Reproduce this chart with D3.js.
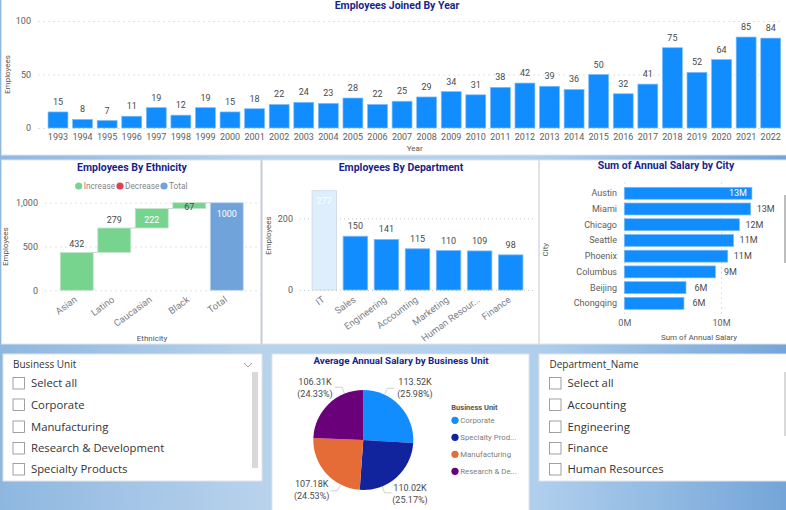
<!DOCTYPE html>
<html>
<head>
<meta charset="utf-8">
<script src="https://cdn.jsdelivr.net/npm/d3@7"></script>
<style>
    html, body { margin: 0; padding: 0; overflow: hidden; }
    svg { display: block; }
    text { font-family: Roboto, sans-serif; }
    .title { font-size: 10.5px; font-weight: 700; fill: #1a1f8c; text-anchor: middle; }
    .tick-label { font-size: 9px; fill: #605e5c; }
    .slanted { font-size: 9.5px; fill: #7b8089; }
    .data-label { font-size: 9px; fill: #4a4a4a; text-anchor: middle; }
    .axis-title { font-size: 8px; fill: #555; text-anchor: middle; }
    .slicer-title { font-family: "Open Sans", sans-serif; font-size: 10px; fill: #333; }
    .slicer-item { font-family: "Open Sans", sans-serif; font-size: 11.3px; fill: #333; }
    .domain { display: none; }
    .tick line { stroke: #e3e3e3; stroke-dasharray: 2 3; }
</style>
</head>
<body>
<script>
const years = ["1993","1994","1995","1996","1997","1998","1999","2000","2001","2002","2003","2004","2005","2006","2007","2008","2009","2010","2011","2012","2013","2014","2015","2016","2017","2018","2019","2020","2021","2022"];
const joined = [15,8,7,11,19,12,19,15,18,22,24,23,28,22,25,29,34,31,38,42,39,36,50,32,41,75,52,64,85,84];

const ethnicities = ["Asian","Latino","Caucasian","Black","Total"];
const ethnicityCounts = [432,279,222,67,1000];

const departments = ["IT","Sales","Engineering","Accounting","Marketing","Human Resour...","Finance"];
const departmentCounts = [277,150,141,115,110,109,98];

const cities = ["Austin","Miami","Chicago","Seattle","Phoenix","Columbus","Beijing","Chongqing"];
const citySalary = [13.2,13.07,11.9,11.3,10.7,9.43,6.38,6.17];
const cityLabels = ["13M","13M","12M","11M","11M","9M","6M","6M"];

const units = ["Corporate","Specialty Prod...","Manufacturing","Research & De..."];
const unitSalary = [113.52,110.02,107.18,106.31];
const unitLabels = ["113.52K","110.02K","107.18K","106.31K"];
const unitShares = ["(25.98%)","(25.17%)","(24.53%)","(24.33%)"];
const unitColors = ["#118dff","#12239e","#e66c37","#6b007b"];

const businessItems = ["Select all","Corporate","Manufacturing","Research & Development","Specialty Products"];
const departmentItems = ["Select all","Accounting","Engineering","Finance","Human Resources"];

const blue = "#118dff", blueEdge = "#7fbcf7", green = "#76d48f", totalBlue = "#6fa3da";

const svg = d3.select("body").append("svg").attr("width", 786).attr("height", 510);

const grad = svg.append("defs").append("linearGradient").attr("id", "bg");
grad.selectAll("stop")
    .data([[0, "#8eb7e0"], [0.34, "#b9d3ec"], [0.68, "#b0cfed"], [1, "#74a5d8"]])
    .enter().append("stop")
    .attr("offset", d => d[0])
    .attr("stop-color", d => d[1]);
svg.append("rect").attr("width", 786).attr("height", 510).attr("fill", "url(#bg)");

function panel(x, y, w, h) {
    svg.append("rect").attr("x", x).attr("y", y).attr("width", w).attr("height", h)
        .attr("fill", "#fff").attr("stroke", "#dfe3e8").attr("stroke-width", 1);
}
function title(t, x, y) {
    return svg.append("text").attr("class", "title").attr("x", x).attr("y", y).text(t);
}
function axisTitle(t, x, y, rotate) {
    svg.append("text").attr("class", "axis-title")
        .attr("transform", `translate(${x},${y})` + (rotate ? " rotate(-90)" : ""))
        .text(t);
}
function yAxis(scale, left, right, values, format) {
    let g = svg.append("g").attr("transform", `translate(${left},0)`)
        .call(d3.axisLeft(scale).tickValues(values).tickFormat(format || d3.format(",")).tickSize(-(right - left)).tickPadding(7));
    g.selectAll("text").attr("class", "tick-label");
    return g;
}
function slantedLabels(scale, names, y) {
    svg.selectAll(null).data(names).enter().append("text")
        .attr("class", "slanted")
        .attr("text-anchor", "end")
        .attr("transform", d => `translate(${scale(d) + scale.bandwidth() / 2 + 1},${y}) rotate(-36)`)
        .text(d => d);
}

panel(1.5, -1, 786, 156);
panel(1.5, 160, 259, 184);
panel(262.5, 160, 276, 184);
panel(539.5, 160, 250, 184);
panel(3, 354, 259, 127);
panel(272, 354, 257, 157);
panel(539, 354, 250, 127);

// employees joined by year
title("Employees Joined By Year", 397, 9);
let xYear = d3.scaleBand().domain(years).range([45.7, 783]).paddingInner(0.19).paddingOuter(0.095);
let yYear = d3.scaleLinear().domain([0, 100]).range([128, 21]);
yAxis(yYear, 38, 783, [0, 50, 100], d3.format("d"));
svg.selectAll(null).data(years).enter().append("rect")
    .attr("x", d => xYear(d))
    .attr("width", xYear.bandwidth())
    .attr("y", (d, i) => yYear(joined[i]))
    .attr("height", (d, i) => yYear(0) - yYear(joined[i]))
    .attr("fill", blue).attr("stroke", blueEdge).attr("stroke-width", 0.7);
svg.selectAll(null).data(years).enter().append("text")
    .attr("class", "data-label")
    .attr("x", d => xYear(d) + xYear.bandwidth() / 2)
    .attr("y", (d, i) => yYear(joined[i]) - 7)
    .text((d, i) => joined[i]);
svg.selectAll(null).data(years).enter().append("text")
    .attr("class", "tick-label").attr("text-anchor", "middle")
    .attr("x", d => xYear(d) + xYear.bandwidth() / 2)
    .attr("y", 140)
    .text(d => d);
axisTitle("Year", 414.7, 151, false);
axisTitle("Employees", 10, 74.5, true);

// employees by ethnicity
title("Employees By Ethnicity", 132, 171);
[["Increase", green, 78.7], ["Decrease", "#e0404f", 120], ["Total", totalBlue, 164]].forEach(d => {
    svg.append("circle").attr("cx", d[2]).attr("cy", 186).attr("r", 3.6).attr("fill", d[1]);
    svg.append("text").attr("class", "tick-label").style("font-size", "8.3px").attr("fill-opacity", 0.8)
        .attr("x", d[2] + 5).attr("y", 189).text(d[0]);
});
let xEth = d3.scaleBand().domain(ethnicities).range([58, 245.5]).paddingInner(0.12).paddingOuter(0.06);
let yEth = d3.scaleLinear().domain([0, 1000]).range([290.3, 202.7]);
yAxis(yEth, 45, 258, [0, 500, 1000]);
let running = 0;
ethnicities.forEach((e, i) => {
    let isTotal = e == "Total";
    let from = isTotal ? 0 : running;
    let to = isTotal ? ethnicityCounts[i] : running + ethnicityCounts[i];
    svg.append("rect").attr("x", xEth(e)).attr("width", xEth.bandwidth())
        .attr("y", yEth(to)).attr("height", yEth(from) - yEth(to))
        .attr("fill", isTotal ? totalBlue : green)
        .attr("stroke", isTotal ? "#c3d9ee" : "#c8e3cf").attr("stroke-width", 0.8);
    if (!isTotal) {
        svg.append("line")
            .attr("x1", xEth(e) + xEth.bandwidth()).attr("x2", xEth(ethnicities[i + 1]))
            .attr("y1", yEth(to)).attr("y2", yEth(to))
            .attr("stroke", "#c8c8c8").attr("stroke-width", 0.8);
    }
    let inside = e == "Caucasian" || isTotal;
    let labelY = e == "Black" ? yEth(to) + 7.5 : inside ? yEth(to) + 14 : yEth(to) - 5;
    svg.append("text").attr("class", "data-label")
        .style("fill", inside ? "#fff" : null)
        .attr("x", xEth(e) + xEth.bandwidth() / 2)
        .attr("y", labelY)
        .text(ethnicityCounts[i]);
    running = to;
});
slantedLabels(xEth, ethnicities, 301);
axisTitle("Ethnicity", 152, 341, false);
axisTitle("Employees", 8, 246.7, true);

// employees by department
title("Employees By Department", 401, 171);
let xDept = d3.scaleBand().domain(departments).range([308.8, 526.2]).paddingInner(0.21).paddingOuter(0.105);
let yDept = d3.scaleLinear().domain([0, 200]).range([290, 218.3]);
yAxis(yDept, 300, 534, [0, 200], d3.format("d")).selectAll("line").style("stroke", "#c8c8c8").style("stroke-dasharray", "1 3");
svg.selectAll(null).data(departments).enter().append("rect")
    .attr("x", d => xDept(d))
    .attr("width", xDept.bandwidth())
    .attr("y", (d, i) => yDept(departmentCounts[i]))
    .attr("height", (d, i) => yDept(0) - yDept(departmentCounts[i]))
    .attr("fill", d => d == "IT" ? "#deeefd" : blue)
    .attr("stroke", d => d == "IT" ? "#cfd8e0" : blueEdge).attr("stroke-width", 0.8);
svg.selectAll(null).data(departments).enter().append("text")
    .attr("class", "data-label")
    .style("fill", d => d == "IT" ? "#fff" : null)
    .attr("x", d => xDept(d) + xDept.bandwidth() / 2)
    .attr("y", (d, i) => d == "IT" ? yDept(departmentCounts[i]) + 13 : yDept(departmentCounts[i]) - 7)
    .text((d, i) => departmentCounts[i]);
slantedLabels(xDept, departments, 301);
axisTitle("Employees", 271, 235.7, true);

// sum of annual salary by city
title("Sum of Annual Salary by City", 666, 169);
let xCity = d3.scaleLinear().domain([0, 10]).range([624.3, 721]);
let yCity = d3.scaleBand().domain(cities).range([185.4, 311.2]).paddingInner(0.24).paddingOuter(0.12);
let cityAxis = svg.append("g").attr("transform", "translate(0,314)")
    .call(d3.axisBottom(xCity).tickValues([0, 10]).tickFormat(d => d + "M").tickSize(-134).tickPadding(6));
cityAxis.selectAll("text").attr("class", "tick-label");
svg.selectAll(null).data(cities).enter().append("rect")
    .attr("x", xCity(0))
    .attr("width", (d, i) => xCity(citySalary[i]) - xCity(0))
    .attr("y", d => yCity(d))
    .attr("height", yCity.bandwidth())
    .attr("fill", blue).attr("stroke", blueEdge).attr("stroke-width", 0.7);
svg.selectAll(null).data(cities).enter().append("text")
    .attr("class", "tick-label").attr("text-anchor", "end")
    .attr("x", 617)
    .attr("y", d => yCity(d) + yCity.bandwidth() / 2 + 3)
    .text(d => d);
svg.selectAll(null).data(cities).enter().append("text")
    .attr("class", "data-label")
    .style("fill", d => d == "Austin" ? "#fff" : null)
    .attr("x", (d, i) => d == "Austin" ? xCity(citySalary[i]) - 14 : xCity(citySalary[i]) + 15)
    .attr("y", d => yCity(d) + yCity.bandwidth() / 2 + 3)
    .text((d, i) => cityLabels[i]);
axisTitle("Sum of Annual Salary", 699, 340, false);
axisTitle("City", 548, 249.7, true);
svg.append("rect").attr("x", 784).attr("y", 195).attr("width", 2).attr("height", 68).attr("fill", "#bdbdbd");

// average salary pie
title("Average Annual Salary by Business Unit", 401, 364).style("font-size", "9.8px");
let pie = d3.pie().sort(null)(unitSalary);
let arc = d3.arc().innerRadius(0).outerRadius(50);
let pieG = svg.append("g").attr("transform", "translate(363.3,440)");
pieG.selectAll("path").data(pie).enter().append("path")
    .attr("d", arc)
    .attr("fill", (d, i) => unitColors[i]);
// leader lines leave the pie near the top and bottom, not at the slice middle
const leaderAngles = [25, 158, 207, 338];
pieG.selectAll("polyline").data(leaderAngles).enter().append("polyline")
    .attr("fill", "none").attr("stroke", "#c4c4c4").attr("stroke-width", 0.8)
    .attr("points", d => {
        let a = d3.pointRadial(d * Math.PI / 180, 50);
        let c = d3.pointRadial(d * Math.PI / 180, 57);
        return [a, c, [c[0] + (c[0] > 0 ? 7 : -7), c[1]]].join(" ");
    });
// label centres and baselines of the two line pie labels
const labelX = [415, 410, 311.7, 315];
const labelY = [385, 491, 487, 385];
units.forEach((u, i) => {
    svg.append("text").attr("class", "data-label").attr("x", labelX[i]).attr("y", labelY[i]).text(unitLabels[i]);
    svg.append("text").attr("class", "data-label").attr("x", labelX[i]).attr("y", labelY[i] + 12).text(unitShares[i]);
});
svg.append("text").attr("x", 451.3).attr("y", 410).style("font-size", "7.5px").style("font-weight", 700).attr("fill", "#555").text("Business Unit");
units.forEach((u, i) => {
    let y = 420.3 + i * 17;
    svg.append("circle").attr("cx", 455).attr("cy", y).attr("r", 3.6).attr("fill", unitColors[i]);
    svg.append("text").attr("class", "tick-label").style("font-size", "7.8px").attr("fill-opacity", 0.85)
        .attr("x", 460.3).attr("y", y + 2.7).text(u);
});

// slicers
function slicer(name, items, x, y, chevron) {
    svg.append("text").attr("class", "slicer-title").attr("x", x).attr("y", y).text(name);
    items.forEach((t, i) => {
        let top = y + [9.5, 31, 53, 74.5, 95.5][i];
        svg.append("rect").attr("x", x).attr("y", top).attr("width", 11.5).attr("height", 11.5)
            .attr("fill", "#fff").attr("stroke", "#8a8a8a").attr("stroke-width", 0.8);
        svg.append("text").attr("class", "slicer-item").attr("x", x + 18).attr("y", top + 9.5).text(t);
    });
    if (chevron) {
        svg.append("path").attr("d", `M${chevron - 4},${y - 5} L${chevron},${y - 1} L${chevron + 4},${y - 5}`)
            .attr("fill", "none").attr("stroke", "#777").attr("stroke-width", 0.7);
    }
}
slicer("Business Unit", businessItems, 13, 368, 248);
slicer("Department_Name", departmentItems, 549.5, 368);
svg.append("rect").attr("x", 252).attr("y", 372).attr("width", 6).attr("height", 96).attr("fill", "#d9d9d9");
svg.append("rect").attr("x", 784).attr("y", 372).attr("width", 2).attr("height", 64).attr("fill", "#d9d9d9");
</script>
</body>
</html>
